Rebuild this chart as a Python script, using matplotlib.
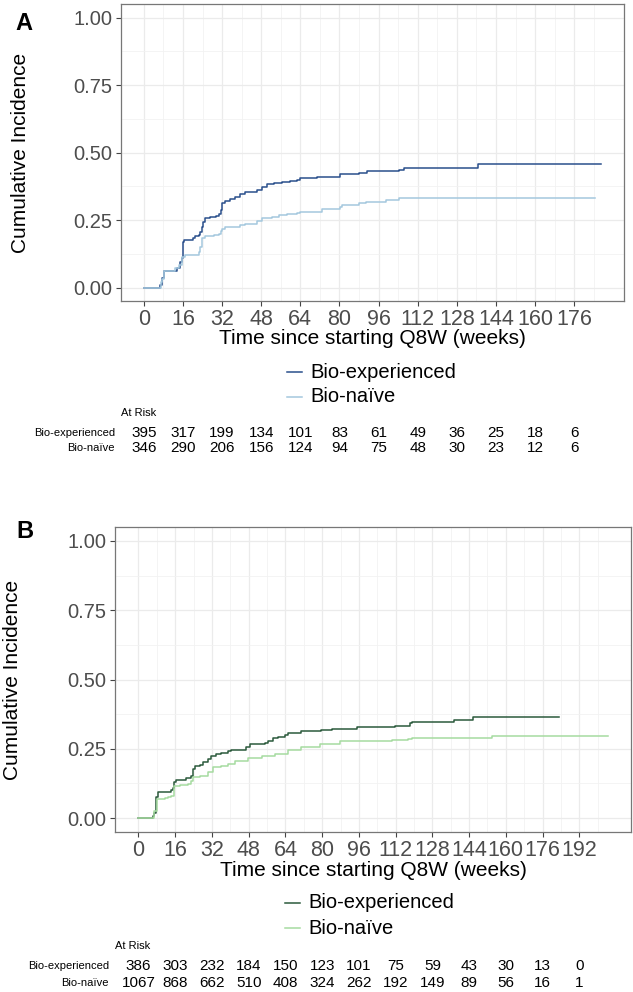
import matplotlib
matplotlib.use("Agg")
import matplotlib.pyplot as plt
from matplotlib.lines import Line2D
from matplotlib.ticker import FixedLocator
import numpy as np

plt.rcParams['font.family'] = ['Liberation Sans', 'DejaVu Sans']

# ---------------- Data ----------------
# Panel A
a_exp_t = [0, 6.5, 7.5, 8.2, 13.6, 14.7, 15.6, 16.0, 16.5, 20.1, 21.0, 22.4, 23.1, 23.8, 24.2, 25.2, 27.2,
           29.3, 30.6, 31.6, 32.0, 33.3, 35.4, 37.4, 39.5, 41.5, 46.3, 48.3, 50.3, 53.1, 56.5, 59.9, 62.6,
           64.0, 70.9, 80.2, 88.0, 91.4, 104.3, 106.4, 136.5, 187.0]
a_exp_v = [0, 0.01, 0.035, 0.062, 0.074, 0.095, 0.108, 0.168, 0.176, 0.185, 0.19, 0.194, 0.206, 0.223, 0.244,
           0.256, 0.262, 0.266, 0.274, 0.287, 0.314, 0.321, 0.326, 0.336, 0.346, 0.352, 0.361, 0.373, 0.382,
           0.388, 0.392, 0.396, 0.398, 0.404, 0.41, 0.42, 0.425, 0.432, 0.435, 0.441, 0.457, 0.457]
a_nai_t = [0, 7.0, 7.5, 8.2, 12.9, 14.3, 15.6, 17.0, 22.4, 23.1, 23.8, 25.2, 28.6, 30.6, 31.6, 32.0, 33.3,
           39.5, 41.5, 46.3, 48.3, 52.4, 55.1, 58.5, 62.6, 64.0, 72.8, 80.2, 81.1, 88.0, 90.7, 98.9, 104.3, 184.6]
a_nai_v = [0, 0.02, 0.033, 0.062, 0.074, 0.083, 0.114, 0.122, 0.132, 0.151, 0.185, 0.19, 0.194, 0.2, 0.21,
           0.215, 0.225, 0.231, 0.237, 0.247, 0.256, 0.262, 0.268, 0.272, 0.277, 0.281, 0.289, 0.299, 0.305,
           0.312, 0.318, 0.324, 0.33, 0.33]
a_risk_times = [0, 16, 32, 48, 64, 80, 96, 112, 128, 144, 160, 176]
a_risk_exp = [395, 317, 199, 134, 101, 83, 61, 49, 36, 25, 18, 6]
a_risk_nai = [346, 290, 206, 156, 124, 94, 75, 48, 30, 23, 12, 6]

# Panel B
b_exp_t = [0, 6.3, 7.0, 7.7, 8.4, 9.9, 14.0, 15.0, 15.7, 16.4, 20.8, 23.0, 23.7, 24.5, 26.6, 28.1, 30.3,
           31.7, 33.9, 36.1, 39.0, 40.5, 47.0, 48.5, 55.0, 56.5, 58.7, 60.8, 63.8, 65.2, 71.0, 73.2, 79.7,
           84.1, 95.0, 95.8, 111.8, 118.3, 119.1, 137.6, 145.6, 183.2]
b_exp_v = [0, 0.008, 0.02, 0.075, 0.093, 0.096, 0.101, 0.108, 0.129, 0.138, 0.144, 0.153, 0.177, 0.189,
           0.193, 0.201, 0.213, 0.225, 0.231, 0.235, 0.243, 0.247, 0.255, 0.267, 0.272, 0.279, 0.289, 0.294,
           0.301, 0.307, 0.313, 0.315, 0.318, 0.321, 0.327, 0.33, 0.333, 0.342, 0.345, 0.354, 0.363, 0.363]
b_nai_t = [0, 7.0, 8.0, 11.4, 12.8, 14.3, 15.7, 17.9, 21.5, 23.0, 23.7, 26.6, 30.3, 32.5, 36.1, 39.0, 41.9,
           47.7, 53.6, 59.4, 65.2, 71.0, 79.0, 87.8, 95.8, 110.3, 117.6, 119.1, 154.0, 204.3]
b_nai_v = [0, 0.026, 0.069, 0.071, 0.075, 0.081, 0.117, 0.12, 0.123, 0.135, 0.149, 0.153, 0.165, 0.183,
           0.189, 0.197, 0.207, 0.217, 0.225, 0.233, 0.245, 0.258, 0.269, 0.277, 0.279, 0.283, 0.285, 0.289,
           0.297, 0.297]
b_risk_times = [0, 16, 32, 48, 64, 80, 96, 112, 128, 144, 160, 176, 192]
b_risk_exp = [386, 303, 232, 184, 150, 123, 101, 75, 59, 43, 30, 13, 0]
b_risk_nai = [1067, 868, 662, 510, 408, 324, 262, 192, 149, 89, 56, 16, 1]

group_labels = ["Bio-experienced", "Bio-na\u00efve"]
x_title = "Time since starting Q8W (weeks)"
y_title = "Cumulative Incidence"

# ---------------- Figure ----------------
W, H = 633, 992
fig = plt.figure(figsize=(W / 100, H / 100), dpi=100)


def fx(px):
    return px / W


def fy(py):
    return 1 - py / H


def panel(box, letter, letter_xy, series, colors, xlim, xmax_tick, legend_px, risk_times, risk_rows,
          risk_y, atrisk_y, rowlab_x, ylab_x):
    l, t, r, b = box
    ax = fig.add_axes([fx(l), fy(b), fx(r) - fx(l), (b - t) / H])
    for (tt, vv), c in zip(series, colors):
        ax.step(tt, vv, where='post', color=c, lw=1.1, zorder=3)
    ax.set_xlim(*xlim)
    ax.set_ylim(-0.05, 1.05)
    ax.xaxis.set_major_locator(FixedLocator(np.arange(0, xmax_tick + 1, 16)))
    ax.xaxis.set_minor_locator(FixedLocator(np.arange(8, xlim[1], 16)))
    ax.yaxis.set_major_locator(FixedLocator([0, 0.25, 0.5, 0.75, 1.0]))
    ax.yaxis.set_minor_locator(FixedLocator([0.125, 0.375, 0.625, 0.875]))
    ax.set_yticklabels(["0.00", "0.25", "0.50", "0.75", "1.00"])
    ax.grid(which='major', color='#EBEBEB', lw=0.9, zorder=0)
    ax.grid(which='minor', color='#F2F2F2', lw=0.6, zorder=0)
    ax.set_axisbelow(True)
    for s in ax.spines.values():
        s.set_color('#777777')
        s.set_linewidth(0.9)
    ax.tick_params(which='major', length=3.5, width=0.8, color='#444444', labelcolor='#4D4D4D', pad=2.5)
    ax.tick_params(axis='y', which='major', labelsize=14.5)
    ax.tick_params(axis='x', which='major', labelsize=15.5, pad=2)
    ax.tick_params(which='minor', length=0)
    ax.set_xlabel(x_title, fontsize=15, va='center')
    ax.xaxis.set_label_coords(0.5, -0.1246)
    ax.set_ylabel(y_title, fontsize=15, va='center')
    ax.yaxis.set_label_coords(ylab_x, 0.5)

    fig.text(fx(letter_xy[0]), fy(letter_xy[1]), letter, fontsize=17, fontweight='bold',
             ha='center', va='center')

    # legend
    lx0, lx1, tx, ly = legend_px
    for lab, c, yy in zip(group_labels, colors, ly):
        fig.add_artist(Line2D([fx(lx0), fx(lx1)], [fy(yy), fy(yy)], color=c, lw=1.1,
                              transform=fig.transFigure))
        fig.text(fx(tx), fy(yy), lab, fontsize=14.5, ha='left', va='center')

    # at risk table
    trans = matplotlib.transforms.blended_transform_factory(ax.transData, fig.transFigure)
    fig.text(fx(l), fy(atrisk_y), "At Risk", fontsize=8, ha='left', va='center')
    for lab, vals, yy in zip(group_labels, risk_rows, risk_y):
        fig.text(fx(rowlab_x), fy(yy), lab, fontsize=8, ha='right', va='center')
        for tt, v in zip(risk_times, vals):
            ax.text(tt, fy(yy), str(v), transform=trans, fontsize=11, ha='center', va='center')
    return ax


panel((121, 4, 624, 301), "A", (24, 23),
      [(a_exp_t, a_exp_v), (a_nai_t, a_nai_v)], ['#2a4f8c', '#a4c8de'],
      (-9.35, 196.35), 176, (287, 302, 310, (372, 397)),
      a_risk_times, [a_risk_exp, a_risk_nai], (433, 448), 413, 115, -0.199)

panel((115, 527, 631, 832), "B", (25, 532),
      [(b_exp_t, b_exp_v), (b_nai_t, b_nai_v)], ['#2b5a3c', '#a6dba0'],
      (-10.2, 214.5), 192, (285, 300, 308, (903, 928)),
      b_risk_times, [b_risk_exp, b_risk_nai], (966, 983), 946, 109, -0.1977)

fig.savefig("out.png", dpi=100)
